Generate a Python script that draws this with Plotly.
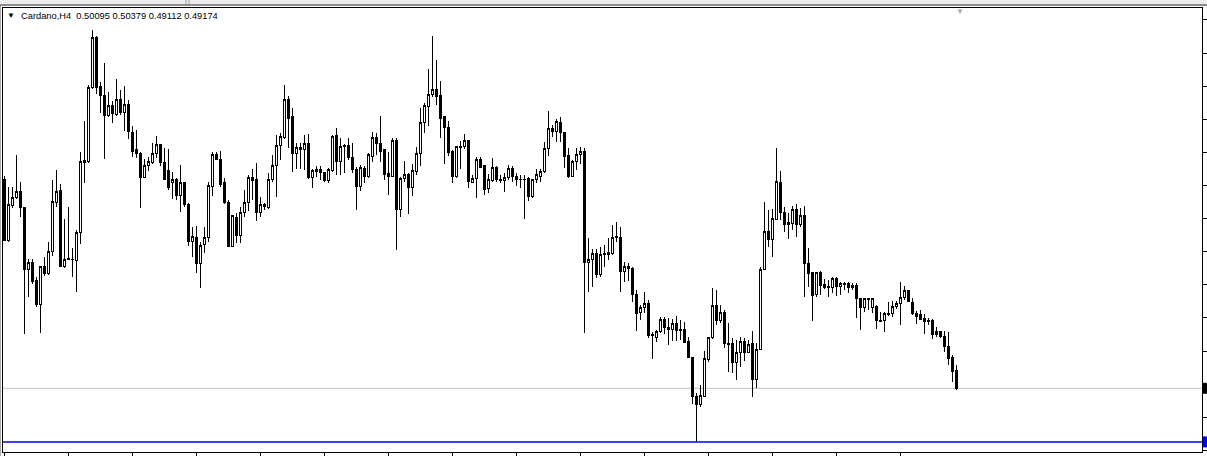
import plotly.graph_objects as go

# ---------------- data (Cardano, H4) ----------------
symbol = "Cardano,H4"
open_ = [0.5989, 0.5672, 0.5851, 0.5892, 0.5923, 0.5841, 0.5528, 0.5559, 0.5467, 0.5349,
         0.5539, 0.5503, 0.5620, 0.5871, 0.5928, 0.5539, 0.5577, 0.5579, 0.5574, 0.5713,
         0.6076, 0.6081, 0.6455, 0.6716, 0.6465, 0.6414, 0.6312, 0.6363, 0.6317, 0.6394,
         0.6332, 0.6368, 0.6225, 0.6138, 0.6122, 0.5999, 0.6056, 0.6076, 0.6122, 0.6168,
         0.6076, 0.6035, 0.5969, 0.5989, 0.5902, 0.5969, 0.5861, 0.5667, 0.5692, 0.5554,
         0.5656, 0.5687, 0.5953, 0.6112, 0.6091, 0.5969, 0.5871, 0.5646, 0.5794, 0.5702,
         0.5815, 0.5871, 0.5999, 0.5984, 0.5815, 0.5856, 0.5841, 0.5984, 0.6056, 0.6158,
         0.6204, 0.6394, 0.6307, 0.6122, 0.6148, 0.6138, 0.6173, 0.5999, 0.6025, 0.6040,
         0.6020, 0.5979, 0.6035, 0.6214, 0.6081, 0.6158, 0.6158, 0.6097, 0.6040, 0.5953,
         0.6045, 0.6004, 0.6102, 0.6204, 0.6173, 0.6138, 0.6015, 0.6004, 0.6184, 0.5835,
         0.5994, 0.6010, 0.5948, 0.6025, 0.6122, 0.6276, 0.6358, 0.6424, 0.6445, 0.6414,
         0.6307, 0.6255, 0.6132, 0.6004, 0.6153, 0.6153, 0.6184, 0.5969, 0.5994, 0.6091,
         0.6056, 0.5938, 0.5979, 0.6050, 0.5989, 0.5979, 0.5999, 0.6045, 0.6004, 0.5989,
         0.5989, 0.5994, 0.5897, 0.5984, 0.6004, 0.6025, 0.6143, 0.6250, 0.6230, 0.6276,
         0.6225, 0.6107, 0.6004, 0.6081, 0.6112, 0.6132, 0.5559, 0.5579, 0.5610, 0.5498,
         0.5610, 0.5605, 0.5610, 0.5692, 0.5692, 0.5518, 0.5539, 0.5533, 0.5400, 0.5303,
         0.5329, 0.5354, 0.5195, 0.5180, 0.5206, 0.5272, 0.5231, 0.5221, 0.5247, 0.5211,
         0.5221, 0.5159, 0.5077, 0.4873, 0.4837, 0.4878, 0.5067, 0.5175, 0.5339, 0.5267,
         0.5303, 0.5149, 0.5149, 0.5047, 0.5103, 0.5159, 0.5103, 0.5149, 0.4965, 0.5114,
         0.5528, 0.5718, 0.5677, 0.5784, 0.5969, 0.5815, 0.5764, 0.5759, 0.5835, 0.5754,
         0.5800, 0.5554, 0.5508, 0.5400, 0.5508, 0.5451, 0.5441, 0.5436, 0.5482, 0.5441,
         0.5456, 0.5456, 0.5431, 0.5446, 0.5375, 0.5329, 0.5375, 0.5329, 0.5334, 0.5267,
         0.5267, 0.5298, 0.5298, 0.5334, 0.5354, 0.5380, 0.5416, 0.5359, 0.5298, 0.5293,
         0.5277, 0.5257, 0.5267, 0.5206, 0.5206, 0.5185, 0.5129, 0.5077, 0.50095]
high = [0.6004, 0.5948, 0.5948, 0.6112, 0.5974, 0.5841, 0.5579, 0.5579, 0.5487, 0.5539,
        0.5590, 0.5667, 0.5984, 0.6035, 0.5963, 0.5784, 0.5846, 0.5636, 0.5728, 0.6127,
        0.6286, 0.6470, 0.6752, 0.6721, 0.6486, 0.6583, 0.6434, 0.6388, 0.6501, 0.6445,
        0.6465, 0.6394, 0.6260, 0.6240, 0.6125, 0.6091, 0.6102, 0.6173, 0.6209, 0.6170,
        0.6148, 0.6143, 0.6025, 0.5994, 0.6061, 0.5972, 0.5864, 0.5743, 0.5748, 0.5667,
        0.5743, 0.5974, 0.6127, 0.6127, 0.6132, 0.5994, 0.5882, 0.5802, 0.5815, 0.5846,
        0.5933, 0.6010, 0.6040, 0.6071, 0.5897, 0.5866, 0.6020, 0.6112, 0.6214, 0.6225,
        0.6470, 0.6414, 0.6353, 0.6173, 0.6173, 0.6214, 0.6219, 0.6040, 0.6056, 0.6056,
        0.6025, 0.6045, 0.6214, 0.6250, 0.6199, 0.6168, 0.6199, 0.6173, 0.6050, 0.6061,
        0.6056, 0.6122, 0.6230, 0.6225, 0.6312, 0.6140, 0.6127, 0.6199, 0.6199, 0.5997,
        0.6081, 0.6020, 0.6066, 0.6153, 0.6353, 0.6378, 0.6552, 0.6721, 0.6598, 0.6491,
        0.6312, 0.6286, 0.6135, 0.6158, 0.6184, 0.6219, 0.6186, 0.6010, 0.6102, 0.6102,
        0.6061, 0.6015, 0.6097, 0.6056, 0.6010, 0.6020, 0.6061, 0.6056, 0.6020, 0.6010,
        0.6010, 0.5997, 0.5989, 0.6040, 0.6040, 0.6179, 0.6337, 0.6266, 0.6296, 0.6307,
        0.6227, 0.6148, 0.6086, 0.6148, 0.6153, 0.6148, 0.5687, 0.5631, 0.5631, 0.5641,
        0.5651, 0.5687, 0.5754, 0.5769, 0.5743, 0.5564, 0.5559, 0.5539, 0.5421, 0.5344,
        0.5411, 0.5370, 0.5206, 0.5216, 0.5282, 0.5282, 0.5277, 0.5272, 0.5287, 0.5267,
        0.5257, 0.5180, 0.5080, 0.4893, 0.4934, 0.5108, 0.5180, 0.5431, 0.5421, 0.5344,
        0.5318, 0.5252, 0.5175, 0.5165, 0.5180, 0.5175, 0.5165, 0.5211, 0.5149, 0.5539,
        0.5871, 0.5830, 0.5835, 0.6148, 0.6030, 0.5846, 0.5815, 0.5851, 0.5861, 0.5841,
        0.5851, 0.5636, 0.5513, 0.5513, 0.5518, 0.5477, 0.5472, 0.5487, 0.5487, 0.5462,
        0.5462, 0.5462, 0.5456, 0.5456, 0.5380, 0.5380, 0.5380, 0.5380, 0.5344, 0.5308,
        0.5308, 0.5359, 0.5364, 0.5364, 0.5462, 0.5441, 0.5421, 0.5380, 0.5313, 0.5318,
        0.5298, 0.5277, 0.5270, 0.5231, 0.5211, 0.5211, 0.5206, 0.5088, 0.50379]
low = [0.5672, 0.5667, 0.5841, 0.5887, 0.5794, 0.5195, 0.5385, 0.5451, 0.5334, 0.5201,
       0.5492, 0.5497, 0.5595, 0.5846, 0.5539, 0.5533, 0.5574, 0.5487, 0.5411, 0.5656,
       0.5969, 0.6071, 0.6450, 0.6424, 0.6327, 0.6091, 0.6307, 0.6276, 0.6312, 0.6317,
       0.6235, 0.6194, 0.6102, 0.6097, 0.5841, 0.5996, 0.6030, 0.6066, 0.6097, 0.6056,
       0.5984, 0.5933, 0.5887, 0.5882, 0.5820, 0.5846, 0.5646, 0.5590, 0.5508, 0.5431,
       0.5610, 0.5667, 0.5902, 0.6086, 0.5948, 0.5861, 0.5644, 0.5641, 0.5661, 0.5661,
       0.5794, 0.5825, 0.5882, 0.5774, 0.5794, 0.5830, 0.5838, 0.5974, 0.5897, 0.6086,
       0.6194, 0.6148, 0.6025, 0.6040, 0.6040, 0.6035, 0.5989, 0.5943, 0.5999, 0.5984,
       0.5976, 0.5969, 0.6025, 0.6010, 0.6010, 0.6020, 0.6086, 0.6020, 0.5830, 0.5928,
       0.5969, 0.5994, 0.6076, 0.6112, 0.6076, 0.5984, 0.5907, 0.5999, 0.5626, 0.5794,
       0.5974, 0.5810, 0.5902, 0.6010, 0.6056, 0.6225, 0.6260, 0.6409, 0.6368, 0.6199,
       0.6066, 0.6107, 0.5969, 0.5994, 0.6040, 0.6143, 0.5943, 0.5966, 0.5892, 0.6047,
       0.5907, 0.5917, 0.5974, 0.5974, 0.5969, 0.5923, 0.5984, 0.5974, 0.5953, 0.5943,
       0.5784, 0.5876, 0.5892, 0.5969, 0.5974, 0.6020, 0.6107, 0.6204, 0.6179, 0.6179,
       0.6045, 0.5994, 0.5999, 0.6035, 0.6066, 0.5201, 0.5411, 0.5436, 0.5482, 0.5487,
       0.5539, 0.5574, 0.5600, 0.5667, 0.5411, 0.5462, 0.5467, 0.5359, 0.5211, 0.5267,
       0.5303, 0.5175, 0.5067, 0.5154, 0.5201, 0.5195, 0.5139, 0.5159, 0.5159, 0.5165,
       0.5152, 0.5072, 0.4837, 0.4643, 0.4822, 0.4875, 0.5052, 0.5172, 0.5242, 0.5252,
       0.5124, 0.5001, 0.4996, 0.4960, 0.5027, 0.5057, 0.5100, 0.4873, 0.4919, 0.5111,
       0.5523, 0.5641, 0.5590, 0.5779, 0.5779, 0.5718, 0.5682, 0.5728, 0.5692, 0.5743,
       0.5385, 0.5436, 0.5262, 0.5385, 0.5395, 0.5426, 0.5385, 0.5405, 0.5390, 0.5395,
       0.5421, 0.5405, 0.5421, 0.5277, 0.5216, 0.5308, 0.5318, 0.5303, 0.5221, 0.5257,
       0.5206, 0.5287, 0.5282, 0.5323, 0.5242, 0.5370, 0.5359, 0.5293, 0.5247, 0.5267,
       0.5195, 0.5242, 0.5170, 0.5180, 0.5175, 0.5103, 0.5037, 0.4950, 0.49112]
close = [0.5672, 0.5856, 0.5892, 0.5923, 0.5841, 0.5528, 0.5559, 0.5462, 0.5349, 0.5539,
         0.5503, 0.5620, 0.5876, 0.5923, 0.5539, 0.5579, 0.5580, 0.5577, 0.5713, 0.6081,
         0.6086, 0.6455, 0.6716, 0.6460, 0.6414, 0.6312, 0.6363, 0.6322, 0.6394, 0.6332,
         0.6368, 0.6230, 0.6132, 0.6122, 0.5999, 0.6056, 0.6081, 0.6122, 0.6168, 0.6071,
         0.5989, 0.5948, 0.5989, 0.5902, 0.5969, 0.5856, 0.5667, 0.5697, 0.5554, 0.5651,
         0.5692, 0.5958, 0.6112, 0.6091, 0.5963, 0.5871, 0.5646, 0.5800, 0.5702, 0.5815,
         0.5871, 0.5999, 0.5979, 0.5815, 0.5861, 0.5846, 0.5989, 0.6056, 0.6158, 0.6209,
         0.6394, 0.6301, 0.6122, 0.6148, 0.6138, 0.6173, 0.5999, 0.6030, 0.6040, 0.6020,
         0.5979, 0.6040, 0.6209, 0.6081, 0.6153, 0.6153, 0.6097, 0.6040, 0.5953, 0.6050,
         0.6004, 0.6112, 0.6204, 0.6173, 0.6132, 0.6010, 0.6004, 0.6184, 0.5835, 0.5994,
         0.6010, 0.5948, 0.6030, 0.6122, 0.6276, 0.6363, 0.6424, 0.6445, 0.6409, 0.6301,
         0.6255, 0.6127, 0.6004, 0.6153, 0.6148, 0.6184, 0.5974, 0.5994, 0.6091, 0.6050,
         0.5933, 0.5984, 0.6050, 0.5989, 0.5979, 0.5999, 0.6045, 0.6004, 0.5989, 0.5984,
         0.5984, 0.5897, 0.5984, 0.6010, 0.6025, 0.6143, 0.6250, 0.6230, 0.6281, 0.6225,
         0.6102, 0.6004, 0.6081, 0.6112, 0.6132, 0.5559, 0.5579, 0.5610, 0.5498, 0.5605,
         0.5605, 0.5615, 0.5692, 0.5697, 0.5518, 0.5539, 0.5533, 0.5400, 0.5298, 0.5329,
         0.5354, 0.5190, 0.5190, 0.5206, 0.5272, 0.5231, 0.5221, 0.5247, 0.5211, 0.5221,
         0.5154, 0.5077, 0.4873, 0.4837, 0.4883, 0.5072, 0.5175, 0.5339, 0.5267, 0.5303,
         0.5149, 0.5144, 0.5047, 0.5103, 0.5159, 0.5103, 0.5144, 0.4965, 0.5114, 0.5528,
         0.5718, 0.5677, 0.5789, 0.5974, 0.5815, 0.5754, 0.5754, 0.5835, 0.5754, 0.5800,
         0.5554, 0.5503, 0.5395, 0.5508, 0.5446, 0.5436, 0.5431, 0.5482, 0.5441, 0.5456,
         0.5451, 0.5431, 0.5446, 0.5375, 0.5329, 0.5375, 0.5370, 0.5375, 0.5267, 0.5262,
         0.5298, 0.5293, 0.5334, 0.5354, 0.5380, 0.5416, 0.5364, 0.5298, 0.5287, 0.5272,
         0.5257, 0.5267, 0.5195, 0.5195, 0.5185, 0.5129, 0.5072, 0.5001, 0.49174]
bars = list(range(len(open_)))
time_ticks = list(range(0, len(open_), 16))
support_level = 0.4643
price_axis = dict(tick0=0.47694, dtick=0.01695, lo=0.45913, hi=0.68645)

# ---------------- layout helpers (pixel -> paper) ----------------
W, H = 1207, 456
ML, MR, MT, MB = 3, 5, 8, 4
PW, PH = W - ML - MR, H - MT - MB


def px(xp):
    return (xp - ML) / PW


def py(yp):
    return 1 - (yp - MT) / PH


fig = go.Figure()
fig.add_trace(go.Candlestick(
    x=bars, open=open_, high=high, low=low, close=close,
    increasing=dict(line=dict(color="black", width=1), fillcolor="white"),
    decreasing=dict(line=dict(color="black", width=1), fillcolor="black"),
    whiskerwidth=0, hoverinfo="skip", showlegend=False,
))

fig.update_layout(
    width=W, height=H,
    margin=dict(l=ML, r=MR, t=MT, b=MB, pad=0),
    paper_bgcolor="white", plot_bgcolor="white",
    showlegend=False,
    font=dict(family="Liberation Sans, Arial, sans-serif", size=9, color="black"),
    xaxis=dict(range=[-0.325, 299.425], showgrid=False, zeroline=False,
               showline=True, linecolor="black", linewidth=1, mirror=True,
               ticks="outside", ticklen=4, tickwidth=1, tickcolor="black",
               tickmode="array", tickvals=time_ticks, showticklabels=False,
               rangeslider=dict(visible=False), fixedrange=True, automargin=False),
    yaxis=dict(range=[price_axis["lo"], price_axis["hi"]], side="right",
               showgrid=False, zeroline=False,
               showline=True, linecolor="black", linewidth=1, mirror=True,
               ticks="outside", ticklen=4, tickwidth=1, tickcolor="black",
               tick0=price_axis["tick0"], dtick=price_axis["dtick"],
               showticklabels=False, fixedrange=True, automargin=False),
)

shapes = [
    # window tab strip at the top
    dict(type="rect", xref="paper", yref="paper", x0=px(-2), x1=px(W + 2),
         y0=py(4), y1=py(-2), fillcolor="#EDEDED", line=dict(width=0), layer="above"),
    dict(type="line", xref="paper", yref="paper", x0=px(-2), x1=px(W + 2),
         y0=py(5), y1=py(5), line=dict(color="#8C8C8C", width=2), layer="above"),
    dict(type="line", xref="paper", yref="paper", x0=px(186), x1=px(186),
         y0=py(0), y1=py(4), line=dict(color="#A0A0A0", width=1), layer="above"),
    dict(type="line", xref="paper", yref="paper", x0=px(189), x1=px(189),
         y0=py(0), y1=py(4), line=dict(color="#A0A0A0", width=1), layer="above"),
    # left window edge
    dict(type="line", xref="paper", yref="paper", x0=px(0.5), x1=px(0.5),
         y0=py(6), y1=py(H + 2), line=dict(color="#A8A8A8", width=1), layer="above"),
    # bid line
    dict(type="line", xref="paper", yref="y", x0=0, x1=1, y0=close[-1], y1=close[-1],
         line=dict(color="#C0C0C0", width=1), layer="below"),
    # blue horizontal level
    dict(type="line", xref="paper", yref="y", x0=0, x1=1, y0=support_level, y1=support_level,
         line=dict(color="#0000FF", width=1.5), layer="above"),
    # right-side price label boxes (clipped by the window edge)
    dict(type="rect", xref="paper", yref="y", ysizemode="pixel", yanchor=close[-1],
         x0=px(1203), x1=px(1212), y0=-5.5, y1=5.5,
         fillcolor="black", line=dict(width=0), layer="above"),
    dict(type="rect", xref="paper", yref="y", ysizemode="pixel", yanchor=support_level,
         x0=px(1203), x1=px(1212), y0=-5.5, y1=5.5,
         fillcolor="#0000FF", line=dict(width=0), layer="above"),
]
fig.update_layout(shapes=shapes)

annotations = [
    dict(xref="paper", yref="paper", x=px(10.5), y=py(15.5), xanchor="center", yanchor="middle",
         text="▼", showarrow=False, font=dict(size=8, color="black")),
    dict(xref="paper", yref="paper", x=px(19), y=py(16), xanchor="left", yanchor="middle",
         text=f"{symbol}  {open_[-1]:.5f} {high[-1]:.5f} {low[-1]:.5f} {close[-1]:.5f}",
         showarrow=False, font=dict(size=9.3, color="black")),
    # chart-shift marker
    dict(xref="paper", yref="paper", x=px(960), y=py(11), xanchor="center", yanchor="middle",
         text="▼", showarrow=False, font=dict(size=8, color="#A8A8A8")),
]
fig.update_layout(annotations=annotations)

post = (
    "document.documentElement.style.margin='0';"
    "document.body.style.margin='0';"
    "document.documentElement.style.overflow='hidden';"
    "document.body.style.overflow='hidden';"
    "var gd=document.getElementById('{plot_id}');"
    "gd.style.height='456px';gd.style.overflow='hidden';gd.style.lineHeight='0';"
    "var sc=gd.querySelector('.svg-container');if(sc){sc.style.display='block';}"
    "if(gd.parentElement){gd.parentElement.style.height='456px';gd.parentElement.style.overflow='hidden';}"
    "gd.querySelectorAll('.boxlayer path').forEach(function(p){p.style.shapeRendering='crispEdges';});"
)
fig.write_html("out.html", config=dict(displayModeBar=False, staticPlot=True), post_script=post)
